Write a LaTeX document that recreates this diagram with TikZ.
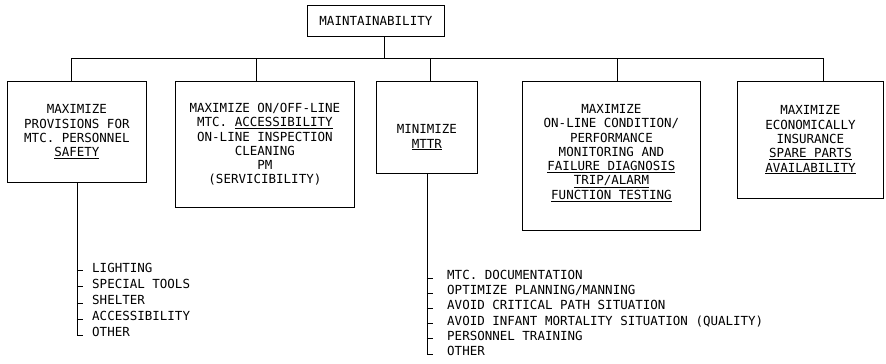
\documentclass[tikz,border=0pt]{standalone}
\usepackage{fontspec}
\newfontfamily\typefont{DejaVu Sans Mono}
\usetikzlibrary{positioning}

\begin{document}
\begin{tikzpicture}[
        x=1pt, y=-1pt,
        every node/.style={font=\typefont\fontsize{12.5}{14.3}\selectfont},
        goal/.style={rectangle, draw=black, line width=0.8pt, align=center, anchor=north west, inner sep=0pt},
        item/.style={anchor=west, inner sep=0pt, text height=9pt, text depth=0pt},
        link/.style={line width=0.8pt}
        ]
        \useasboundingbox (0,0) rectangle (886,364);

        \node[goal, minimum width=137pt, minimum height=31pt] (top) at (307,5) {MAINTAINABILITY};
        \coordinate (bus) at (0,58);

        \node[goal, minimum width=139pt, minimum height=101pt] (b1) at (7,81)
            {MAXIMIZE\\PROVISIONS FOR\\MTC. PERSONNEL\\\underline{SAFETY}};
        \node[goal, minimum width=179pt, minimum height=126pt] (b2) at (175,81)
            {MAXIMIZE ON/OFF-LINE\\MTC. \underline{ACCESSIBILITY}\\ON-LINE INSPECTION\\CLEANING\\PM\\(SERVICIBILITY)};
        \node[goal, minimum width=101pt, minimum height=92pt] (b3) at (376,81)
            {\rule{0pt}{15pt}\\MINIMIZE\\\underline{MTTR}};
        \node[goal, minimum width=178pt, minimum height=149pt] (b4) at (522,81)
            {MAXIMIZE\\ON-LINE CONDITION/\\PERFORMANCE\\MONITORING AND\\\underline{FAILURE DIAGNOSIS}\\\underline{TRIP/ALARM}\\\underline{FUNCTION TESTING}\\[-6pt]};
        \node[goal, minimum width=146pt, minimum height=117pt] (b5) at (737,81)
            {MAXIMIZE\\ECONOMICALLY\\INSURANCE\\\underline{SPARE PARTS}\\\underline{AVAILABILITY}};

        % safety items
        \node[item] (safe1) at (92,267.5) {LIGHTING};
        \node[item, below right=6.8pt and 0pt of safe1.south west] (safe2) {SPECIAL TOOLS};
        \node[item, below right=6.8pt and 0pt of safe2.south west] (safe3) {SHELTER};
        \node[item, below right=6.8pt and 0pt of safe3.south west] (safe4) {ACCESSIBILITY};
        \node[item, below right=6.8pt and 0pt of safe4.south west] (safe5) {OTHER};

        % mttr items
        \node[item] (mttr1) at (447,275) {MTC. DOCUMENTATION};
        \node[item, below right=5.8pt and 0pt of mttr1.south west] (mttr2) {OPTIMIZE PLANNING/MANNING};
        \node[item, below right=5.8pt and 0pt of mttr2.south west] (mttr3) {AVOID CRITICAL PATH SITUATION};
        \node[item, below right=5.8pt and 0pt of mttr3.south west] (mttr4) {AVOID INFANT MORTALITY SITUATION (QUALITY)};
        \node[item, below right=5.8pt and 0pt of mttr4.south west] (mttr5) {PERSONNEL TRAINING};
        \node[item, below right=5.8pt and 0pt of mttr5.south west] (mttr6) {OTHER};

        \draw[link] ([xshift=8.5pt]top.south) -- ([xshift=8.5pt]top.south |- bus);
        \draw[link] ([xshift=-5.5pt]b1.north |- bus) -- ([xshift=13pt]b5.north |- bus);
        \draw[link] ([xshift=-5.5pt]b1.north |- bus) -- ([xshift=-5.5pt]b1.north);
        \draw[link] ([xshift=-8.5pt]b2.north |- bus) -- ([xshift=-8.5pt]b2.north);
        \draw[link] ([xshift=3.5pt]b3.north |- bus) -- ([xshift=3.5pt]b3.north);
        \draw[link] ([xshift=6pt]b4.north |- bus) -- ([xshift=6pt]b4.north);
        \draw[link] ([xshift=13pt]b5.north |- bus) -- ([xshift=13pt]b5.north);

        \draw[link] (b1.south) -- ([yshift=-3pt]b1.south |- safe5.west) -- ++(6,0);
        \draw[link] ([yshift=-3pt]b1.south |- safe1.west) -- ++(6,0);
        \draw[link] ([yshift=-3pt]b1.south |- safe2.west) -- ++(6,0);
        \draw[link] ([yshift=-3pt]b1.south |- safe3.west) -- ++(6,0);
        \draw[link] ([yshift=-3pt]b1.south |- safe4.west) -- ++(6,0);

        \draw[link] (b3.south) -- ([yshift=-3pt]b3.south |- mttr6.west) -- ++(6,0);
        \draw[link] ([yshift=-3pt]b3.south |- mttr1.west) -- ++(6,0);
        \draw[link] ([yshift=-3pt]b3.south |- mttr2.west) -- ++(6,0);
        \draw[link] ([yshift=-3pt]b3.south |- mttr3.west) -- ++(6,0);
        \draw[link] ([yshift=-3pt]b3.south |- mttr4.west) -- ++(6,0);
        \draw[link] ([yshift=-3pt]b3.south |- mttr5.west) -- ++(6,0);
\end{tikzpicture}
\end{document}
